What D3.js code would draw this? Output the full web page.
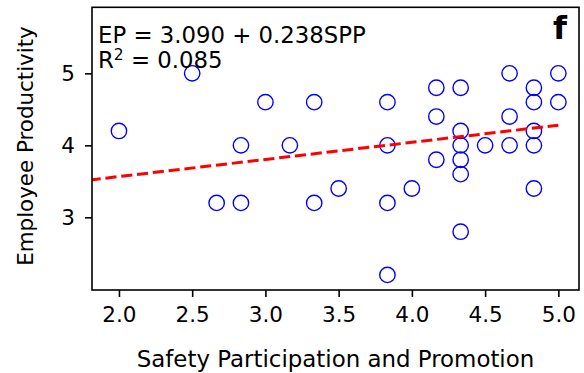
<!DOCTYPE html>
<html>
<head>
<meta charset="utf-8">
<script src="https://cdn.jsdelivr.net/npm/d3@7"></script>
<style>
  html, body { margin: 0; padding: 0; background: #fff; }
  svg { display: block; font-family: "DejaVu Sans", sans-serif; }
</style>
</head>
<body>
<svg id="chart" width="584" height="373"></svg>
<script>
// Data
const sppValues = [2.0, 2.5, 2.667, 2.833, 2.833, 3.0, 3.167, 3.333, 3.333, 3.5,
  3.833, 3.833, 3.833, 3.833, 4.0, 4.167, 4.167, 4.167,
  4.333, 4.333, 4.333, 4.333, 4.333, 4.333, 4.5,
  4.667, 4.667, 4.667, 4.833, 4.833, 4.833, 4.833, 4.833, 5.0, 5.0];
const epValues = [4.2, 5.0, 3.2, 3.2, 4.0, 4.6, 4.0, 4.6, 3.2, 3.4,
  4.6, 4.0, 3.2, 2.2, 3.4, 4.8, 4.4, 3.8,
  4.8, 4.2, 4.0, 3.8, 3.6, 2.8, 4.0,
  5.0, 4.4, 4.0, 4.8, 4.6, 4.2, 4.0, 3.4, 5.0, 4.6];
const xTicks = [2.0, 2.5, 3.0, 3.5, 4.0, 4.5, 5.0];
const yTicks = [3, 4, 5];
const intercept = 3.090;
const slope = 0.238;
const fitRange = [1.8, 5.0];
const xLabel = "Safety Participation and Promotion";
const yLabel = "Employee Productivity";
const eqLine1 = "EP = 3.090 + 0.238SPP";
const panelLetter = "f";

const points = sppValues.map((x, i) => ({x, y: epValues[i]}));

const svg = d3.select("#chart");
const m = {left: 92, top: 7.3, right: 5, bottom: 83};
const W = 584, H = 373;
const pw = W - m.left - m.right, ph = H - m.top - m.bottom;

const x = d3.scaleLinear().domain([1.816, 5.141]).range([0, pw]);
const y = d3.scaleLinear().domain([1.99, 5.918]).range([ph, 0]);

const g = svg.append("g").attr("transform", `translate(${m.left},${m.top})`);

g.append("defs").append("clipPath").attr("id", "clip")
  .append("rect").attr("width", pw).attr("height", ph);

// points
g.append("g").attr("clip-path", "url(#clip)")
  .selectAll("circle").data(points).join("circle")
  .attr("cx", d => x(d.x)).attr("cy", d => y(d.y)).attr("r", 7.7)
  .attr("fill", "none").attr("stroke", "#0000ff").attr("stroke-width", 1.4);

// regression line
const line = d3.line().x(d => x(d)).y(d => y(intercept + slope * d));
g.append("path").attr("clip-path", "url(#clip)")
  .datum(fitRange).attr("d", line)
  .attr("fill", "none").attr("stroke", "#ff0000").attr("stroke-width", 3)
  .attr("stroke-dasharray", "11.1,4.8");

// axes
const xAxis = g.append("g").attr("transform", `translate(0,${ph})`)
  .call(d3.axisBottom(x).tickValues(xTicks).tickFormat(d3.format(".1f")).tickSize(7).tickPadding(9.4).tickSizeOuter(0));
const yAxis = g.append("g")
  .call(d3.axisLeft(y).tickValues(yTicks).tickFormat(d3.format("d")).tickSize(7).tickPadding(10).tickSizeOuter(0));
[xAxis, yAxis].forEach(a => {
  a.select(".domain").remove();
  a.selectAll(".tick line").attr("stroke", "#000").attr("stroke-width", 1.6);
  a.selectAll(".tick text").attr("font-family", "DejaVu Sans").attr("font-size", 21.5).attr("fill", "#000");
});

// frame
g.append("rect").attr("width", pw).attr("height", ph)
  .attr("fill", "none").attr("stroke", "#000").attr("stroke-width", 1.6);

// axis labels
svg.append("text").attr("x", m.left + pw / 2).attr("y", 366.7)
  .attr("text-anchor", "middle").attr("font-size", 22.9).attr("fill", "#000").text(xLabel);
svg.append("text").attr("transform", "translate(32.5,146) rotate(-90)")
  .attr("text-anchor", "middle").attr("font-size", 21.4).attr("fill", "#000").text(yLabel);

// equation
svg.append("text").attr("x", 98).attr("y", 42.5).attr("font-size", 22.8).attr("fill", "#000").text(eqLine1);
const t2 = svg.append("text").attr("x", 98).attr("y", 67.7).attr("font-size", 22.8).attr("fill", "#000");
t2.append("tspan").text("R");
t2.append("tspan").attr("font-size", 15.5).attr("dy", -8).text("2");
t2.append("tspan").attr("dy", 8).text(" = 0.085");

// panel letter
svg.append("text").attr("x", 567).attr("y", 39).attr("text-anchor", "end")
  .attr("font-size", 32).attr("font-weight", "bold").attr("fill", "#000").text(panelLetter);
</script>
</body>
</html>
